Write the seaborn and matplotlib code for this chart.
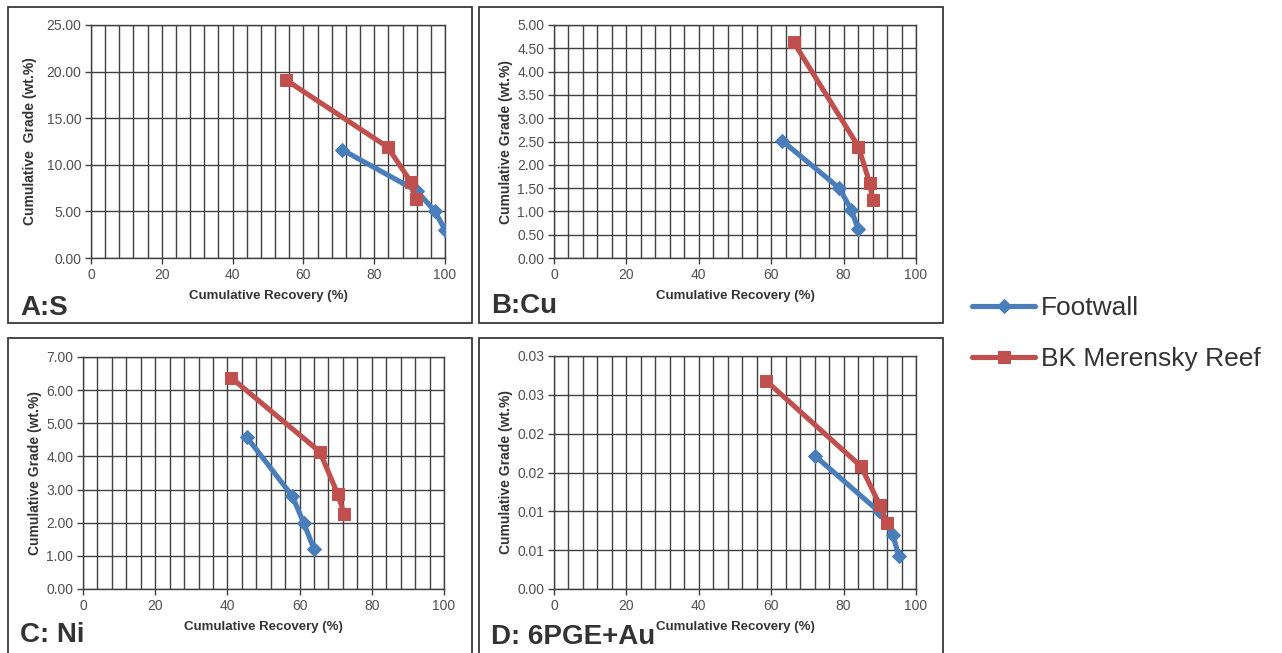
import numpy as np
import matplotlib
matplotlib.use("Agg")
import matplotlib.pyplot as plt
from matplotlib.patches import Rectangle
import seaborn as sns

sns.set_theme(style="white")
plt.rcParams["font.family"] = ["Liberation Sans", "DejaVu Sans"]

W, H = 1282, 653

# ---- data --------------------------------------------------------------
# A: S
s_fw_rec = [71.0, 92.0, 97.2, 100.0]
s_fw_grade = [11.6, 7.2, 5.0, 3.0]
s_bk_rec = [55.1, 83.8, 90.3, 91.8]
s_bk_grade = [19.1, 11.9, 8.2, 6.3]
s_yticks = [0, 5, 10, 15, 20, 25]

# B: Cu
cu_fw_rec = [63.1, 78.8, 82.1, 84.0]
cu_fw_grade = [2.51, 1.50, 1.04, 0.62]
cu_bk_rec = [66.2, 84.1, 87.2, 88.0]
cu_bk_grade = [4.63, 2.39, 1.61, 1.24]
cu_yticks = [0, 0.5, 1.0, 1.5, 2.0, 2.5, 3.0, 3.5, 4.0, 4.5, 5.0]

# C: Ni
ni_fw_rec = [45.3, 58.0, 61.2, 64.0]
ni_fw_grade = [4.59, 2.80, 1.98, 1.20]
ni_bk_rec = [41.0, 65.6, 70.5, 72.4]
ni_bk_grade = [6.38, 4.14, 2.88, 2.25]
ni_yticks = [0, 1, 2, 3, 4, 5, 6, 7]

# D: 6PGE+Au
pge_fw_rec = [72.2, 89.7, 93.6, 95.2]
pge_fw_grade = [0.0171, 0.0100, 0.0070, 0.0043]
pge_bk_rec = [58.6, 84.8, 90.0, 92.0]
pge_bk_grade = [0.0268, 0.0158, 0.0108, 0.0085]
pge_yticks = [0, 0.005, 0.010, 0.015, 0.020, 0.025, 0.030]
pge_yticklabels = ["0.00", "0.01", "0.01", "0.02", "0.02", "0.03", "0.03"]

series_names = ["Footwall", "BK Merensky Reef"]

# ---- layout (pixel boxes: x0, y0, x1, y1) --------------------------------
panels = [
    dict(tag="A:S", frame=(8, 7, 472, 323), axes=(91, 25, 445, 258), tagpos=(20, 315),
         fw=(s_fw_rec, s_fw_grade), bk=(s_bk_rec, s_bk_grade), yt=s_yticks, ytl=None,
         ylabel="Cumulative  Grade (wt.%)", ylx=30),
    dict(tag="B:Cu", frame=(479, 7, 943, 323), axes=(554, 25, 916, 258), tagpos=(491, 313),
         fw=(cu_fw_rec, cu_fw_grade), bk=(cu_bk_rec, cu_bk_grade), yt=cu_yticks, ytl=None,
         ylabel="Cumulative Grade (wt.%)", ylx=506),
    dict(tag="C: Ni", frame=(8, 338, 472, 665), axes=(83, 357, 444, 589), tagpos=(20, 642),
         fw=(ni_fw_rec, ni_fw_grade), bk=(ni_bk_rec, ni_bk_grade), yt=ni_yticks, ytl=None,
         ylabel="Cumulative Grade (wt.%)", ylx=35),
    dict(tag="D: 6PGE+Au", frame=(479, 338, 943, 665), axes=(554, 356, 916, 589), tagpos=(491, 644),
         fw=(pge_fw_rec, pge_fw_grade), bk=(pge_bk_rec, pge_bk_grade), yt=pge_yticks,
         ytl=pge_yticklabels, ylabel="Cumulative Grade (wt.%)", ylx=506),
]

FW_COLOR = "#4A7EBB"
BK_COLOR = "#C0504D"
GRID = "#404040"
TICK_TXT = "#505050"
LABEL_TXT = "#333333"


def fig_rect(x0, y0, x1, y1):
    return [x0 / W, 1 - y1 / H, (x1 - x0) / W, (y1 - y0) / H]


fig = plt.figure(figsize=(W / 100, H / 100), dpi=100)

handles = None
for p in panels:
    fx0, fy0, fx1, fy1 = p["frame"]
    fig.add_artist(Rectangle((fx0 / W, 1 - fy1 / H), (fx1 - fx0) / W, (fy1 - fy0) / H,
                             transform=fig.transFigure, fill=False,
                             edgecolor="#3a3a3a", lw=1.3))

    ax = fig.add_axes(fig_rect(*p["axes"]))
    sns.lineplot(x=p["fw"][0], y=p["fw"][1], ax=ax, color=FW_COLOR, lw=3.7,
                 marker="D", markersize=7, markeredgecolor=FW_COLOR, sort=False,
                 label=series_names[0], zorder=3)
    sns.lineplot(x=p["bk"][0], y=p["bk"][1], ax=ax, color=BK_COLOR, lw=3.7,
                 marker="s", markersize=9, markeredgecolor=BK_COLOR, sort=False,
                 label=series_names[1], zorder=4)
    if handles is None:
        handles, labels = ax.get_legend_handles_labels()
    if ax.get_legend() is not None:
        ax.get_legend().remove()

    ax.set_xlim(0, 100)
    ax.set_ylim(p["yt"][0], p["yt"][-1])
    ax.set_xticks(np.arange(0, 101, 20))
    ax.set_xticks(np.arange(0, 101, 4), minor=True)
    ax.set_yticks(p["yt"])
    if p["ytl"] is None:
        ax.set_yticklabels([f"{v:.2f}" for v in p["yt"]])
    else:
        ax.set_yticklabels(p["ytl"])

    ax.grid(True, which="major", axis="y", color=GRID, lw=1.0)
    ax.grid(True, which="both", axis="x", color=GRID, lw=1.0)
    ax.set_axisbelow(True)
    for sp in ax.spines.values():
        sp.set_color(GRID)
        sp.set_linewidth(1.0)

    ax.tick_params(axis="both", which="major", direction="out", length=4, width=1,
                   color=GRID, labelsize=10, labelcolor=TICK_TXT, pad=3,
                   bottom=True, left=True)
    ax.tick_params(axis="x", which="minor", length=0)

    ax.set_xlabel("Cumulative Recovery (%)", fontsize=9.5, fontweight="bold",
                  color=LABEL_TXT)
    ax.set_ylabel(p["ylabel"], fontsize=10, fontweight="bold", color=LABEL_TXT)
    ax0, ay0, ax1, ay1 = p["axes"]
    ax.xaxis.set_label_coords(0.5, -38 / (ay1 - ay0))
    ax.xaxis.label.set_va("center")
    ax.yaxis.set_label_coords(-(ax0 - p["ylx"]) / (ax1 - ax0), 0.5)
    ax.yaxis.label.set_va("center")

    fig.text(p["tagpos"][0] / W, 1 - p["tagpos"][1] / H, p["tag"], fontsize=20,
             fontweight="bold", color=LABEL_TXT, va="baseline", ha="left")

fig.legend(handles, labels, loc="upper left", bbox_to_anchor=(972 / W, 1 - 296 / H),
           frameon=False, fontsize=19, handlelength=2.4, handletextpad=0.2,
           labelspacing=1.02, borderpad=0, borderaxespad=0, labelcolor=LABEL_TXT)

fig.savefig("out.png", dpi=100, facecolor="white")
